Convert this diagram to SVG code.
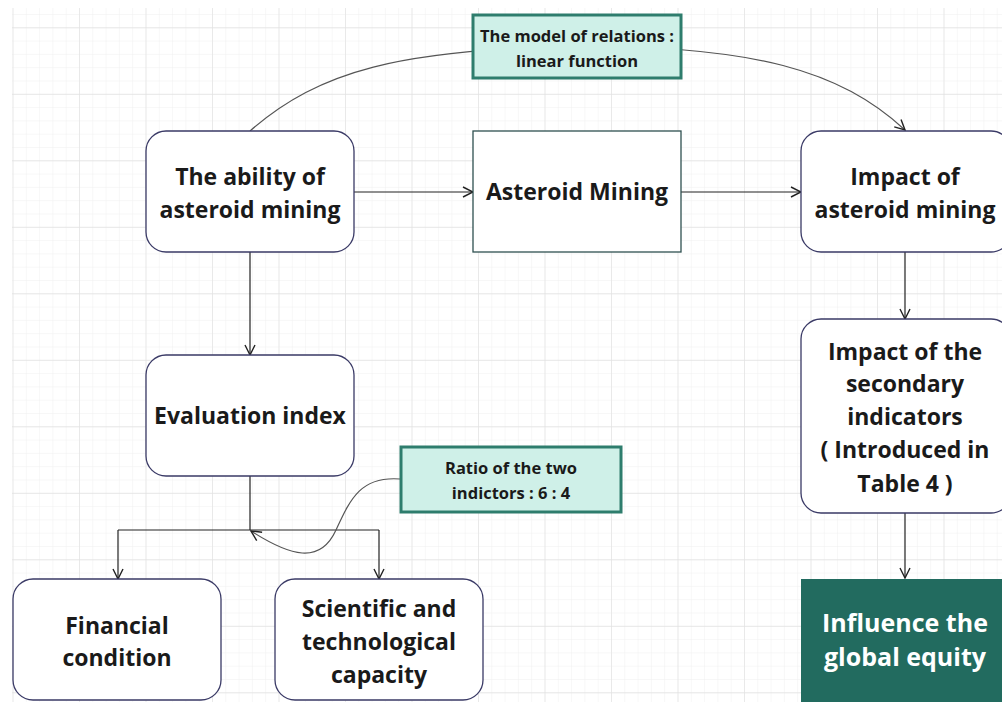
<svg xmlns="http://www.w3.org/2000/svg" width="1002" height="702" viewBox="0 0 1002 702">
<defs>
<pattern id="minor" patternUnits="userSpaceOnUse" x="12.5" y="0.7" width="13.3" height="13.3">
<path d="M0,0 H13.3 M0,0 V13.3" stroke="#efefef" stroke-width="1" fill="none"/>
</pattern>
<pattern id="major" patternUnits="userSpaceOnUse" x="12.5" y="27.3" width="66.5" height="66.5">
<path d="M0,0 H66.5 M0,0 V66.5" stroke="#e2e2e2" stroke-width="1.3" fill="none"/>
</pattern>
<marker id="arr" viewBox="0 0 12 12" refX="11" refY="6" markerWidth="12" markerHeight="12" markerUnits="userSpaceOnUse" orient="auto">
<path d="M1,1 L11,6 L1,11" fill="none" stroke="#222" stroke-width="1.4"/>
</marker>
<style>
.node{fill:#fff;stroke:#3a3a66;stroke-width:1.3}
.sq{fill:#fff;stroke:#2f5050;stroke-width:1.3}
.lab{fill:#cff0e8;stroke:#2e7d6d;stroke-width:3}
.t{font-family:"Open Sans","Noto Sans",sans-serif;font-weight:700;font-size:23px;fill:#1a1a1a;text-anchor:middle}
.s{font-family:"Open Sans","Noto Sans",sans-serif;font-weight:700;font-size:16.5px;fill:#1a1a1a;text-anchor:middle}
.w{font-family:"Open Sans","Noto Sans",sans-serif;font-weight:700;font-size:25px;fill:#fff;text-anchor:middle}
.c{fill:none;stroke:#222;stroke-width:1.2}
.cv{fill:none;stroke:#555;stroke-width:1.2}
</style>
</defs>
<rect x="0" y="0" width="1002" height="702" fill="#fff"/>
<rect x="12" y="8" width="990" height="694" fill="url(#minor)"/>
<rect x="12" y="8" width="990" height="694" fill="url(#major)"/>

<g id="connectors">
<path class="cv" d="M250,131 C320,70 400,50 577,46 C754,46 840,70 905,130" marker-end="url(#arr)"/>
<path class="c" d="M354,192 H473" marker-end="url(#arr)"/>
<path class="c" d="M681,192 H801" marker-end="url(#arr)"/>
<path class="c" d="M905,252 V319" marker-end="url(#arr)"/>
<path class="c" d="M905,513 V578" marker-end="url(#arr)"/>
<path class="c" d="M250,252 V355" marker-end="url(#arr)"/>
<path class="c" d="M250,476 V530"/>
<path class="c" d="M118,530 H379"/>
<path class="c" d="M118,530 V579" marker-end="url(#arr)"/>
<path class="c" d="M379,530 V579" marker-end="url(#arr)"/>
<path class="cv" d="M400,479 C360,476 350,500 336,530 C320,565 290,556 251,531" marker-end="url(#arr)"/>
</g>

<g id="label-model">
<rect class="lab" x="473" y="15" width="208" height="63"/>
<text class="s" x="577" y="42">The model of relations :</text>
<text class="s" x="577" y="67">linear function</text>
</g>

<g id="node-ability">
<rect class="node" x="146" y="131" width="208" height="121" rx="20"/>
<text class="t" x="250" y="185">The ability of</text>
<text class="t" x="250" y="218">asteroid mining</text>
</g>

<g id="node-asteroid-mining">
<rect class="sq" x="473" y="131" width="208" height="121"/>
<text class="t" x="577" y="200">Asteroid Mining</text>
</g>

<g id="node-impact">
<rect class="node" x="801" y="131" width="210" height="121" rx="20"/>
<text class="t" x="905" y="185">Impact of</text>
<text class="t" x="905" y="218">asteroid mining</text>
</g>

<g id="node-evaluation">
<rect class="node" x="146" y="355" width="208" height="121" rx="20"/>
<text class="t" x="250" y="424">Evaluation index</text>
</g>

<g id="label-ratio">
<rect class="lab" x="401" y="447" width="220" height="65"/>
<text class="s" x="511" y="474">Ratio of the two</text>
<text class="s" x="511" y="499">indictors : 6 : 4</text>
</g>

<g id="node-financial">
<rect class="node" x="13" y="579" width="208" height="121" rx="20"/>
<text class="t" x="117" y="634">Financial</text>
<text class="t" x="117" y="666">condition</text>
</g>

<g id="node-scientific">
<rect class="node" x="275" y="579" width="208" height="121" rx="20"/>
<text class="t" x="379" y="617">Scientific and</text>
<text class="t" x="379" y="650">technological</text>
<text class="t" x="379" y="683">capacity</text>
</g>

<g id="node-secondary">
<rect class="node" x="801" y="319" width="210" height="194" rx="20"/>
<text class="t" x="905" y="360">Impact of the</text>
<text class="t" x="905" y="392">secondary</text>
<text class="t" x="905" y="425">indicators</text>
<text class="t" x="905" y="458">( Introduced in</text>
<text class="t" x="905" y="492">Table 4 )</text>
</g>

<g id="node-equity">
<rect x="801" y="579" width="210" height="123" fill="#226b5f"/>
<text class="w" x="905" y="632">Influence the</text>
<text class="w" x="905" y="666">global equity</text>
</g>
</svg>
